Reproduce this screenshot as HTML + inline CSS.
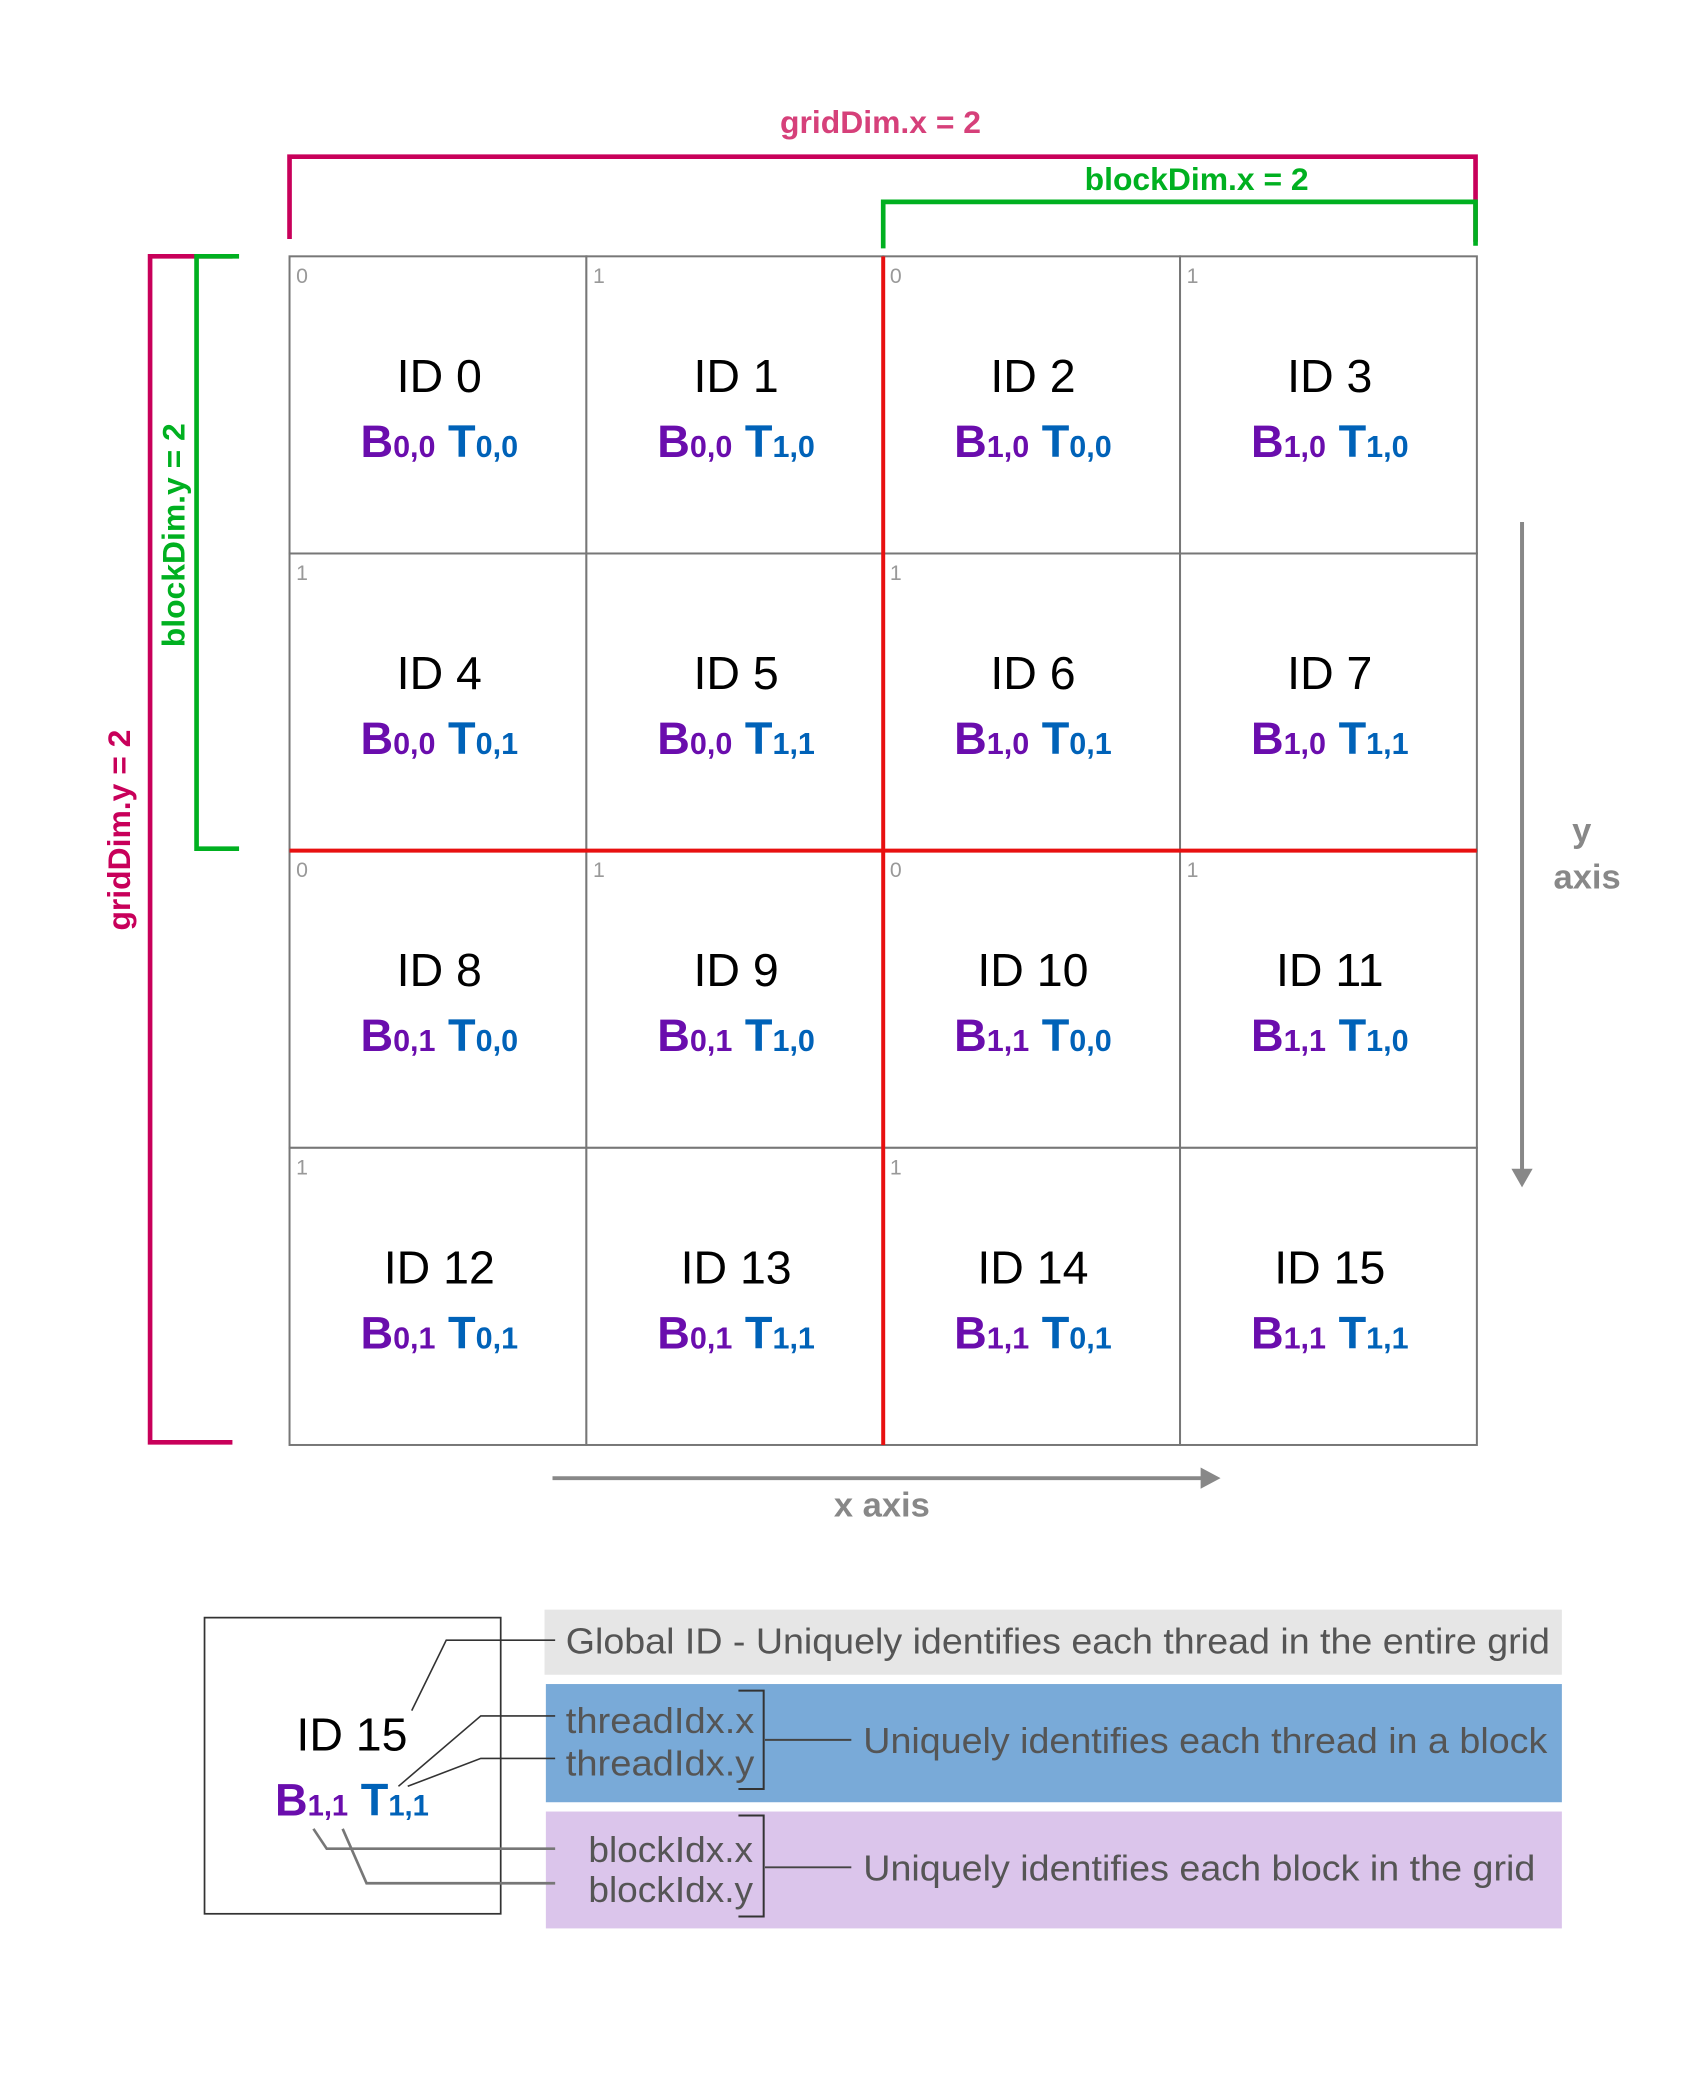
<!DOCTYPE html>
<html><head><meta charset="utf-8">
<style>
html,body{margin:0;padding:0;background:#fff;}
svg{display:block;}
text{font-family:"Liberation Sans",sans-serif;}
</style></head>
<body>
<svg id="chart" width="1700" height="2100" viewBox="0 0 1280 1581.2" preserveAspectRatio="none" xmlns="http://www.w3.org/2000/svg">
  <g>
    <polyline points="218,180 218,118 1111,118 1111,182" fill="none" stroke="#c8005a" stroke-width="3.5"/>
    <text x="663" y="100" text-anchor="middle" font-size="24" font-weight="bold" fill="#d6407a">gridDim.x = 2</text>
  </g>
  <g>
    <polyline points="665,187 665,152 1111,152 1111,185" fill="none" stroke="#00b020" stroke-width="3.5"/>
    <text x="901" y="143" text-anchor="middle" font-size="24" font-weight="bold" fill="#00b020">blockDim.x = 2</text>
  </g>
  <g>
    <polyline points="175,193 113,193 113,1086 175,1086" fill="none" stroke="#c8005a" stroke-width="3.5"/>
    <text transform="translate(98,625) rotate(-90)" text-anchor="middle" font-size="24" font-weight="bold" fill="#c8005a">gridDim.y = 2</text>
  </g>
  <g>
    <polyline points="180,193 148,193 148,639 180,639" fill="none" stroke="#00b020" stroke-width="3.5"/>
    <text transform="translate(139,403) rotate(-90)" text-anchor="middle" font-size="24" font-weight="bold" fill="#00b020">blockDim.y = 2</text>
  </g>

  <g id="grid"></g>

  <g>
    <line x1="1146" y1="393" x2="1146" y2="882" stroke="#888" stroke-width="3"/>
    <polygon points="1138,880 1154,880 1146,894" fill="#888"/>
    <text x="1191" y="634" text-anchor="middle" font-size="26" font-weight="bold" fill="#888">y</text>
    <text x="1195" y="669" text-anchor="middle" font-size="26" font-weight="bold" fill="#888">axis</text>
  </g>
  <g>
    <line x1="416" y1="1113" x2="906" y2="1113" stroke="#888" stroke-width="3"/>
    <polygon points="904,1105 904,1121 919,1113" fill="#888"/>
    <text x="664" y="1142" text-anchor="middle" font-size="26" font-weight="bold" fill="#888">x axis</text>
  </g>

  <g>
    <rect x="154" y="1218" width="223" height="223" fill="#fff" stroke="#333" stroke-width="1.3"/>
    <text x="265" y="1318" text-anchor="middle" font-size="35" fill="#000">ID 15</text>
    <text x="265" y="1367" text-anchor="middle" font-size="34" font-weight="bold"><tspan fill="#6a0dad">B</tspan><tspan fill="#6a0dad" font-size="22">1,1</tspan><tspan fill="#0062b8"> T</tspan><tspan fill="#0062b8" font-size="22">1,1</tspan></text>

    <rect x="410" y="1212" width="766" height="49" fill="#e6e6e6"/>
    <text x="426" y="1245" font-size="27" fill="#555" textLength="741" lengthAdjust="spacingAndGlyphs">Global ID - Uniquely identifies each thread in the entire grid</text>

    <rect x="411" y="1268" width="765" height="89" fill="#79aad8"/>
    <text x="426" y="1305" font-size="27" fill="#555" textLength="142" lengthAdjust="spacingAndGlyphs">threadIdx.x</text>
    <text x="426" y="1337" font-size="27" fill="#555" textLength="142" lengthAdjust="spacingAndGlyphs">threadIdx.y</text>
    <polyline points="556,1273 575,1273 575,1347 556,1347" fill="none" stroke="#333" stroke-width="1.5"/>
    <line x1="576" y1="1310" x2="641" y2="1310" stroke="#444" stroke-width="1.5"/>
    <text x="650" y="1320" font-size="27" fill="#555" textLength="515" lengthAdjust="spacingAndGlyphs">Uniquely identifies each thread in a block</text>

    <rect x="411" y="1364" width="765" height="88" fill="#dbc5eb"/>
    <text x="443" y="1402" font-size="27" fill="#555" textLength="124" lengthAdjust="spacingAndGlyphs">blockIdx.x</text>
    <text x="443" y="1432" font-size="27" fill="#555" textLength="124" lengthAdjust="spacingAndGlyphs">blockIdx.y</text>
    <polyline points="556,1367 575,1367 575,1443 556,1443" fill="none" stroke="#333" stroke-width="1.5"/>
    <line x1="576" y1="1406" x2="641" y2="1406" stroke="#444" stroke-width="1.5"/>
    <text x="650" y="1416" font-size="27" fill="#555" textLength="506" lengthAdjust="spacingAndGlyphs">Uniquely identifies each block in the grid</text>

    <g fill="none" stroke="#333" stroke-width="1.2">
      <polyline points="310,1288 336,1235 418,1235"/>
      <polyline points="300,1345 362,1292 418,1292"/>
      <polyline points="307,1345 362,1324 418,1324"/>
      <polyline points="236,1377 246,1392 418,1392" stroke="#777" stroke-width="2"/>
      <polyline points="258,1377 276,1418 418,1418" stroke="#777" stroke-width="2"/>
    </g>
  </g>
</svg>
<script>
const cols = [0,1,2,3];
const rows = [0,1,2,3];
const blockX = [0,0,1,1];
const blockY = [0,0,1,1];
const threadX = [0,1,0,1];
const threadY = [0,1,0,1];

const NS = "http://www.w3.org/2000/svg";
const g = document.getElementById('grid');
const x0 = 218, y0 = 193, cw = 223.5, ch = 223.75;
function X(c){ return x0 + c*cw; }
function Y(r){ return y0 + r*ch; }
function mk(tag, attrs){ const e = document.createElementNS(NS, tag); for (const k in attrs) e.setAttribute(k, attrs[k]); return e; }

rows.forEach(r => cols.forEach(c => {
  const cell = mk('rect', {x:X(c), y:Y(r), width:cw, height:ch, fill:'#fff', stroke:'#777', 'stroke-width':1.5});
  
  
  g.appendChild(cell);
}));
const v = mk('line', {x1:X(2), y1:Y(0), x2:X(2), y2:Y(4), stroke:'#e81010', 'stroke-width':3});


g.appendChild(v);
const h = mk('line', {x1:X(0), y1:Y(2), x2:X(4), y2:Y(2), stroke:'#e81010', 'stroke-width':3});


g.appendChild(h);

rows.forEach(r => cols.forEach(c => {
  const cx = X(c) + cw/2 + 1, top = Y(r);
  let idx = null;
  if (r % 2 === 0) idx = threadX[c];
  else if (c % 2 === 0) idx = threadY[r];
  if (idx !== null) {
    const t = mk('text', {x:X(c)+5, y:top+20, 'font-size':16, fill:'#999'});
    t.textContent = idx;
    
    
    g.appendChild(t);
  }
  const id = r*4 + c;
  const t1 = mk('text', {x:cx, y:top+102, 'text-anchor':'middle', 'font-size':35, fill:'#000'});
  t1.textContent = 'ID ' + id;
  
  
  g.appendChild(t1);
  const t2 = mk('text', {x:cx, y:top+151, 'text-anchor':'middle', 'font-size':34, 'font-weight':'bold'});
  
  
  const parts = [['B','#6a0dad',34],[blockX[c]+','+blockY[r],'#6a0dad',23],[' T','#0062b8',34],[threadX[c]+','+threadY[r],'#0062b8',23]];
  parts.forEach(p => { const s = mk('tspan', {fill:p[1], 'font-size':p[2]}); s.textContent = p[0]; t2.appendChild(s); });
  g.appendChild(t2);
}));
</script>
</body></html>
